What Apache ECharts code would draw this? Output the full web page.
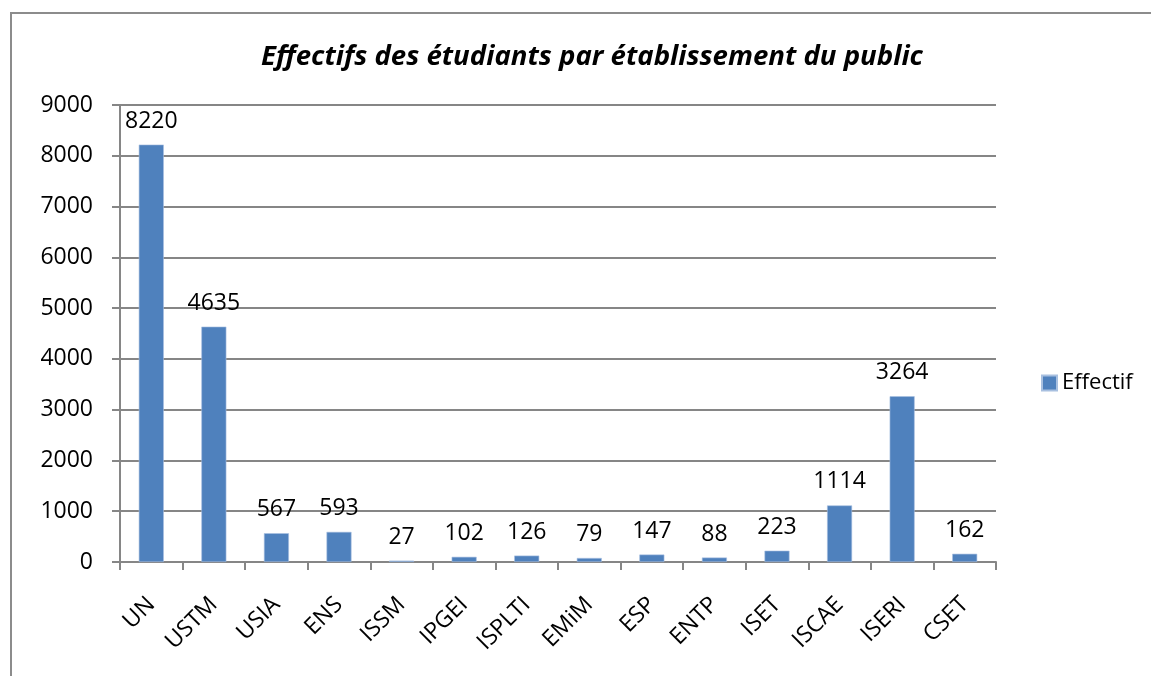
<!DOCTYPE html>
<html>
<head>
<meta charset="utf-8">
<script src="https://cdn.jsdelivr.net/npm/echarts@6/dist/echarts.min.js"></script>
<style>
html, body { margin: 0; padding: 0; background: #fff; }
#main { width: 1151px; height: 676px; }
</style>
</head>
<body>
<div id="main"></div>
<script>
var categories = ['UN', 'USTM', 'USIA', 'ENS', 'ISSM', 'IPGEI', 'ISPLTI', 'EMiM', 'ESP', 'ENTP', 'ISET', 'ISCAE', 'ISERI', 'CSET'];
var effectif = [8220, 4635, 567, 593, 27, 102, 126, 79, 147, 88, 223, 1114, 3264, 162];
var yTicks = [0, 1000, 2000, 3000, 4000, 5000, 6000, 7000, 8000, 9000];

var chart = echarts.init(document.getElementById('main'));
var font = "'Open Sans', 'Liberation Sans', sans-serif";

var opt = {
    animation: false,
    backgroundColor: '#fff',
    title: {
        text: 'Effectifs des étudiants par établissement du public',
        left: 587,
        textAlign: 'center',
        top: 38,
        textStyle: {
            fontFamily: font,
            fontSize: 27.6,
            fontWeight: 'bold',
            fontStyle: 'italic',
            color: '#000'
        }
    },
    legend: {
        data: ['Effectif'],
        left: 1036,
        top: 367,
        itemWidth: 15,
        itemHeight: 15,
        itemGap: 6,
        icon: 'rect',
        textStyle: { fontFamily: font, fontSize: 22, color: '#000' }
    },
    grid: {
        left: 120,
        top: 105,
        width: 876,
        height: 457,
        containLabel: false
    },
    xAxis: {
        type: 'category',
        data: categories,
        axisLine: { lineStyle: { color: '#868686', width: 2 } },
        axisTick: { show: true, length: 8, lineStyle: { color: '#868686', width: 2 } },
        axisLabel: {
            rotate: 45,
            margin: 39,
            fontFamily: font,
            fontSize: 23,
            color: '#000'
        }
    },
    yAxis: {
        type: 'value',
        min: yTicks[0],
        max: yTicks[yTicks.length - 1],
        interval: 1000,
        axisLine: { show: true, lineStyle: { color: '#868686', width: 2 } },
        axisTick: { show: true, length: 8, lineStyle: { color: '#868686', width: 2 } },
        splitLine: { lineStyle: { color: '#868686', width: 2 } },
        axisLabel: {
            margin: 27,
            fontFamily: font,
            fontSize: 23,
            color: '#000',
            formatter: function (v) { return String(v); }
        }
    },
    graphic: [{
        type: 'rect',
        shape: { x: 11, y: 13, width: 1200, height: 800 },
        style: { fill: 'none', stroke: '#8c8c8c', lineWidth: 2 },
        silent: true
    }],
    series: [{
        name: 'Effectif',
        type: 'bar',
        data: effectif,
        barWidth: 25,
        itemStyle: { color: '#4F81BD', borderColor: '#a8c0e0', borderWidth: 0.6 },
        label: {
            show: true,
            position: 'top',
            distance: 12,
            fontFamily: font,
            fontSize: 23,
            color: '#000'
        }
    }]
};
chart.setOption(opt);
</script>
</body>
</html>
